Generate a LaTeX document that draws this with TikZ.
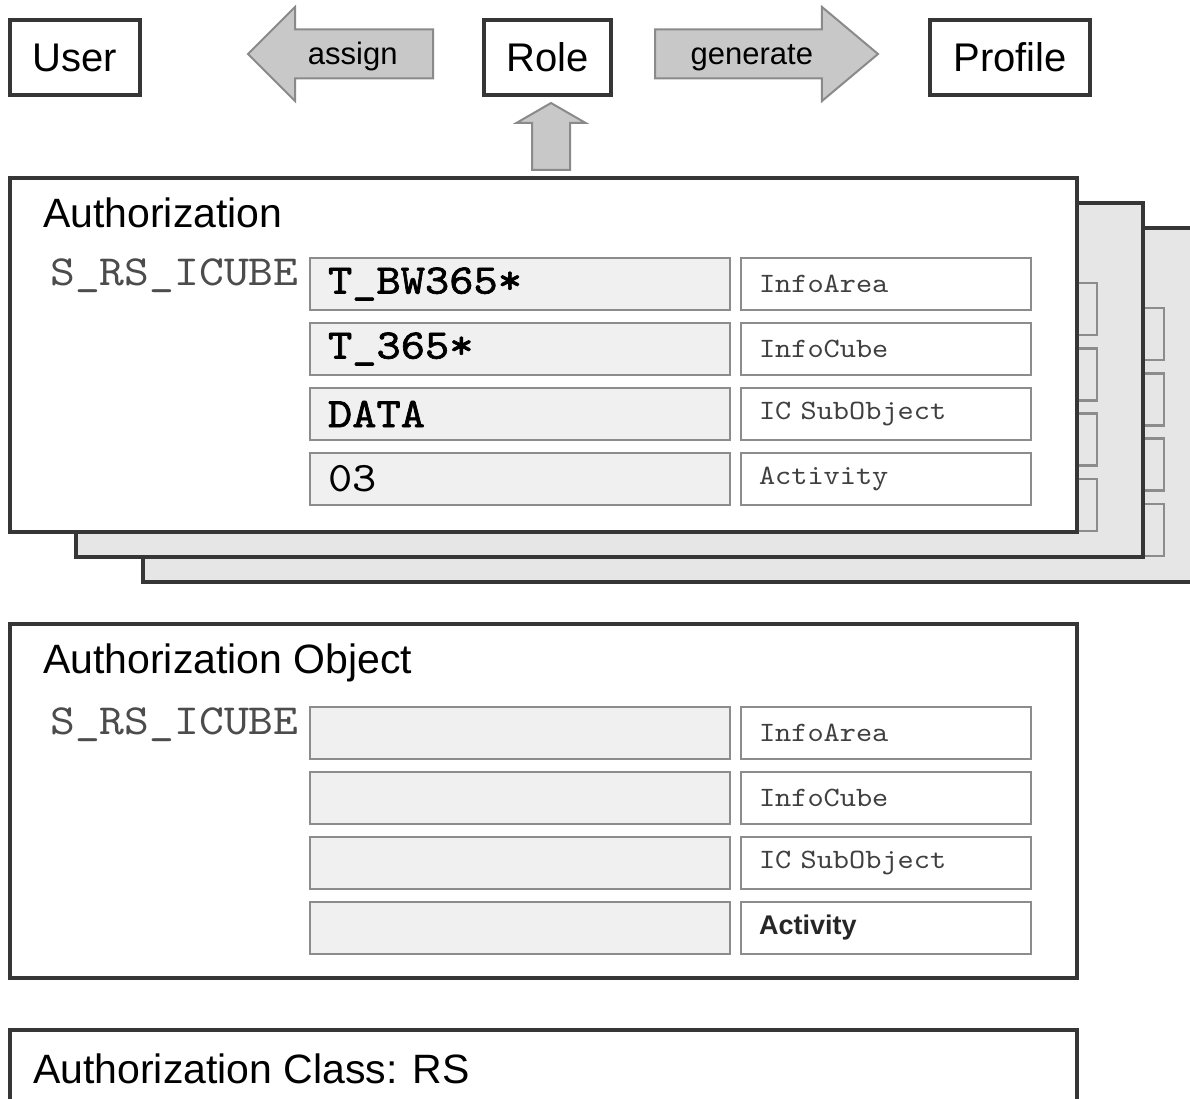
\documentclass[tikz,border=0pt]{standalone}
\usepackage{fontspec}
\setmainfont{Liberation Sans}
\setmonofont{lmmono10-regular}[Extension=.otf,FakeStretch=1.1]
\newfontfamily\valbold{lmmono10-regular}[Extension=.otf,FakeStretch=1.1,FakeBold=1.6]
\usetikzlibrary{positioning,shapes.arrows}

\definecolor{frame}{HTML}{363636}
\definecolor{cell}{HTML}{8C8C8C}
\definecolor{cellfill}{HTML}{F0F0F0}
\definecolor{backfill}{HTML}{E6E6E6}
\definecolor{arrowfill}{HTML}{C8C8C8}
\definecolor{arrowline}{HTML}{8A8A8A}

\tikzset{
    %Define standard styles
    entity/.style={
      rectangle,
      draw=frame, line width=4pt,
      fill=white,
      minimum height=75pt,
      inner sep=0pt, outer sep=0pt,
      font=\fontsize{40}{40}\selectfont},
    blockarrow/.style={
      single arrow,
      draw=arrowline, line width=2pt,
      fill=arrowfill,
      minimum width=92pt,
      single arrow head extend=22.5pt,
      text height=24pt, text depth=3pt,
      inner xsep=0pt, inner ysep=10pt, outer sep=0pt,
      font=\fontsize{31}{31}\selectfont},
    card/.style={
      rectangle,
      draw=frame, line width=4pt,
      fill=white,
      minimum width=1067pt,
      minimum height=354pt,
      anchor=north west,
      inner sep=0pt, outer sep=0pt},
    title/.style={
      anchor=base west,
      inner sep=0pt,
      font=\fontsize{41}{41}\selectfont},
    objname/.style={
      anchor=base west,
      inner sep=0pt,
      text=black!70,
      font=\ttfamily\fontsize{43}{43}\selectfont},
    valuebox/.style={
      rectangle,
      draw=cell, line width=2.5pt,
      fill=cellfill,
      text width=384pt,
      inner xsep=18pt, inner ysep=0pt, outer sep=0pt,
      minimum height=52pt,
      align=left,
      font=\ttfamily\fontsize{42}{42}\selectfont},
    fieldbox/.style={
      rectangle,
      draw=cell, line width=2.5pt,
      fill=white,
      text width=254pt,
      inner xsep=18pt, inner ysep=0pt, outer sep=0pt,
      minimum height=52pt,
      align=left,
      text=black!75,
      font=\ttfamily\fontsize{28}{28}\selectfont},
}

\begin{document}
\begin{tikzpicture}[x=1pt, y=-1pt]
    \useasboundingbox (0,0) rectangle (1190,1099);
    \clip (0,0) rectangle (1190,1099);

    % top row
    \node (user) [entity, minimum width=130pt] at (75,57.5)
          {User};
    \node (role) [entity, minimum width=127pt] at (547.5,57.5)
          {Role};
    \node (profile) [entity, minimum width=160pt] at (1010,57.5)
          {Profile};
    \node (assign) [blockarrow, shape border rotate=180, anchor=tip,
          minimum height=185pt, single arrow tip angle=90] at (248,54)
          {assign};
    \node (generate) [blockarrow, anchor=tip,
          minimum height=223pt, single arrow tip angle=80] at (878,54)
          {generate};
    \node (derive) [blockarrow, shape border rotate=90, anchor=tip,
          text height=0pt, text depth=0pt, inner xsep=18pt, inner ysep=18pt,
          minimum height=67pt, minimum width=67pt,
          single arrow head extend=15.5pt, single arrow tip angle=120] at (551,103)
          {};

    % stacked authorizations behind
    \foreach \dx/\dy in {133/50, 66/25} {
      \node (back\dx) [card, fill=backfill] at (10+\dx,178+\dy) {};
      \foreach \row in {0,...,3}
        \draw [cell, line width=2.5pt] (741+\dx,258+\dy+65.3*\row) rectangle ++(290,52);
    }

    % authorization
    \node (auth) [card] at (10,178) {};
    \node (authlbl) [title] at (43,228) {Authorization};
    \node (authobj) [objname] at (50,285) {S\_RS\_ICUBE};
    \node (area) [valuebox, anchor=north west] at (310,258)
          {\valbold T\_BW365*};
    \node (cube) [valuebox, below=13pt of area]
          {\valbold T\_365*};
    \node (subobj) [valuebox, below=13pt of cube]
          {\valbold DATA};
    \node (actvt) [valuebox, below=13pt of subobj]
          {03};
    \node (areaf) [fieldbox, right=11pt of area] {InfoArea};
    \node (cubef) [fieldbox, right=11pt of cube] {InfoCube};
    \node (subobjf) [fieldbox, right=11pt of subobj] {IC SubObject};
    \node (actvtf) [fieldbox, right=11pt of actvt] {Activity};

    % authorization object
    \node (object) [card] at (10,624) {};
    \node (objlbl) [title] at (43,673) {Authorization Object};
    \node (objname) [objname] at (50,734) {S\_RS\_ICUBE};
    \node (oarea) [valuebox, anchor=north west] at (310,707) {};
    \node (ocube) [valuebox, below=13pt of oarea] {};
    \node (osubobj) [valuebox, below=13pt of ocube] {};
    \node (oactvt) [valuebox, below=13pt of osubobj] {};
    \node (oareaf) [fieldbox, right=11pt of oarea] {InfoArea};
    \node (ocubef) [fieldbox, right=11pt of ocube] {InfoCube};
    \node (osubobjf) [fieldbox, right=11pt of osubobj] {IC SubObject};
    \node (oactvtf) [fieldbox, right=11pt of oactvt,
          font=\bfseries\fontsize{27}{27}\selectfont, text=black!85] {Activity};

    % authorization class
    \node (class) [card, minimum height=120pt] at (10,1030) {};
    \node (classlbl) [title] at (33,1083) {Authorization Class: RS};
\end{tikzpicture}
\end{document}
